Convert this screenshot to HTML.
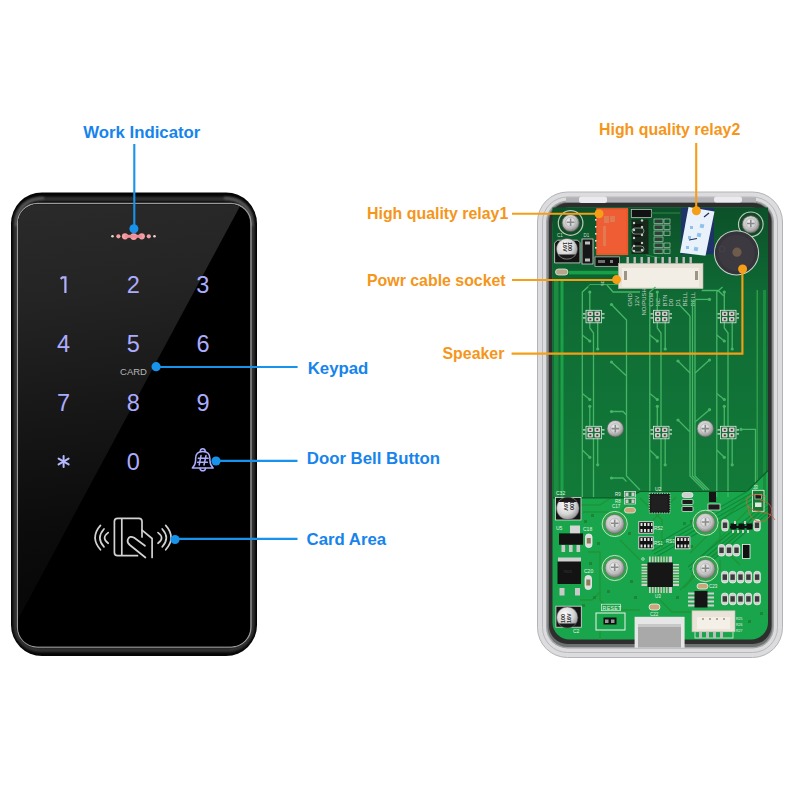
<!DOCTYPE html>
<html><head><meta charset="utf-8">
<style>
html,body{margin:0;padding:0;background:#fff;width:800px;height:800px;overflow:hidden}
svg{display:block}
text{font-family:"Liberation Sans",sans-serif}
</style></head><body>
<svg width="800" height="800" viewBox="0 0 800 800">
<defs>
  <linearGradient id="refl" gradientUnits="userSpaceOnUse" x1="0" y1="204" x2="60" y2="646">
    <stop offset="0" stop-color="#2a2a2a"/>
    <stop offset="0.22" stop-color="#242424"/>
    <stop offset="0.48" stop-color="#171717"/>
    <stop offset="0.72" stop-color="#0c0c0c"/>
    <stop offset="1" stop-color="#050505"/>
  </linearGradient>
  <linearGradient id="bez" x1="0" y1="0" x2="1" y2="0">
    <stop offset="0" stop-color="#0a0a0a"/>
    <stop offset="0.5" stop-color="#141414"/>
    <stop offset="1" stop-color="#0a0a0a"/>
  </linearGradient>
  <linearGradient id="dg" gradientUnits="userSpaceOnUse" x1="0" y1="207" x2="0" y2="497">
    <stop offset="0" stop-color="#0c5029"/>
    <stop offset="0.3" stop-color="#0f6a34"/>
    <stop offset="1" stop-color="#127b39"/>
  </linearGradient>
  <radialGradient id="screw" cx="0.45" cy="0.4" r="0.6">
    <stop offset="0" stop-color="#f4f4f4"/>
    <stop offset="0.6" stop-color="#c9c9c9"/>
    <stop offset="1" stop-color="#7d7d7d"/>
  </radialGradient>
  <radialGradient id="cap" cx="0.4" cy="0.35" r="0.7">
    <stop offset="0" stop-color="#ffffff"/>
    <stop offset="0.6" stop-color="#d5d5d5"/>
    <stop offset="1" stop-color="#8a8a8a"/>
  </radialGradient>
  <filter id="blur1" x="-10%" y="-10%" width="120%" height="120%"><feGaussianBlur stdDeviation="1.3"/></filter>
  <clipPath id="faceclip"><rect x="18" y="204.5" width="232" height="442" rx="19"/></clipPath>
</defs>
<rect width="800" height="800" fill="#fff"/>

<!-- ===== LEFT DEVICE ===== -->
<g id="device">
  <rect x="11" y="192.5" width="246" height="463.5" rx="31" fill="#050505"/>
  <rect x="15.5" y="199" width="237" height="451" rx="24.5" fill="none" stroke="#303030" stroke-width="4.5" filter="url(#blur1)"/>
  <path d="M16,226 Q17,199 44,198" fill="none" stroke="#5a5a5a" stroke-width="2.5" filter="url(#blur1)"/>
  <path d="M224,198 Q251,199 252,226" fill="none" stroke="#5a5a5a" stroke-width="2.5" filter="url(#blur1)"/>
  <rect x="17.5" y="203.5" width="233.5" height="443.5" rx="20" fill="none" stroke="#9a9a9a" stroke-width="1.3"/>
  <rect x="18" y="204.5" width="232" height="442" rx="19" fill="#000"/>
  <g clip-path="url(#faceclip)">
    <polygon points="0,190 248.7,190 -14.7,680 0,680" fill="url(#refl)"/>
  </g>
  <!-- indicator dots -->
  <g fill="#f5a0a6">
    <circle cx="112.5" cy="236.3" r="1.3" fill="#ead6d6"/>
    <circle cx="118.4" cy="236.3" r="2.1"/>
    <circle cx="125" cy="236.3" r="3.1"/>
    <circle cx="133.7" cy="236.6" r="3.4"/>
    <circle cx="141.8" cy="236.3" r="3.1"/>
    <circle cx="148.8" cy="236.3" r="2.1"/>
    <circle cx="154.5" cy="236.3" r="1.3" fill="#ead6d6"/>
    <rect x="125" y="234.8" width="16.8" height="3" fill="#f08c96"/>
  </g>
  <!-- digits -->
  <g fill="#acacff" font-size="23.5" text-anchor="middle">
    <text x="133.3" y="293">2</text>
    <text x="202.8" y="293">3</text>
    <text x="63.5" y="352.3">4</text>
    <text x="133.3" y="352.3">5</text>
    <text x="203" y="352.3">6</text>
    <text x="63.5" y="410.6">7</text>
    <text x="133.3" y="410.6">8</text>
    <text x="203" y="410.6">9</text>
    <text x="133.3" y="469.6">0</text>
  </g>
  <path d="M60.6,278.8 L62.5,277.4 H65.4 V292.9" fill="none" stroke="#b0b0ff" stroke-width="2.2" stroke-linejoin="miter"/>
  <text x="133.5" y="375" fill="#b5b5b5" font-size="9.5" text-anchor="middle">CARD</text>
  <!-- asterisk -->
  <g stroke="#b8baff" stroke-width="2" stroke-linecap="round">
    <line x1="63.6" y1="456" x2="63.6" y2="467"/>
    <line x1="58.6" y1="458.6" x2="68.6" y2="464.4"/>
    <line x1="58.6" y1="464.4" x2="68.6" y2="458.6"/>
  </g>
  <!-- bell -->
  <g stroke="#adadff" stroke-width="1.5" fill="none" stroke-linejoin="round" stroke-linecap="round">
    <path d="M192.3,468 Q195.5,465 195.6,460.5 V458.5 Q195.6,451.5 202.75,451.5 Q209.9,451.5 209.9,458.5 V460.5 Q210,465 213.2,468 Z"/>
    <path d="M200.2,451.3 Q200.5,448.8 202.75,448.8 Q205,448.8 205.3,451.3"/>
    <path d="M200,468.3 Q200.3,470.8 202.75,470.8 Q205.2,470.8 205.5,468.3"/>
    <path d="M201,455.6 L199.2,465 M206,455.6 L204,465 M198.3,458.2 H208.2 M197.6,462.3 H207.4" stroke-width="1.5"/>
  </g>
  <!-- card icon -->
  <g stroke="#d2d2d2" stroke-width="1.7" fill="none" stroke-linecap="round" stroke-linejoin="round">
    <path d="M100.5,525.4 Q89.7,537.6 100.5,549.8"/>
    <path d="M104,529 Q95.8,537.9 104,546.8"/>
    <path d="M108.2,532.6 Q101,537.9 108.2,543.3"/>
    <path d="M165.7,525.4 Q176.5,537.6 165.7,549.8"/>
    <path d="M162.2,529 Q170.4,537.9 162.2,546.8"/>
    <path d="M158,532.6 Q165.2,537.9 158,543.3"/>
    <path d="M137.5,555.7 H117.6 Q114.4,555.7 114.4,552.5 V521.5 Q114.4,518.3 117.6,518.3 H138.8 Q142,518.3 142,521.5 V537"/>
    <line x1="121.8" y1="519" x2="121.8" y2="555"/>
    <path d="M142,530.2 L152.1,538.5 V557.5"/>
    <path d="M145,545.8 L134.2,537.8 Q129.5,535.2 127.8,539.5 Q126.8,542.5 129.8,545 L145.4,557.5"/>
  </g>
</g>

<!-- ===== BLUE CALLOUTS ===== -->
<g fill="#1893ec" stroke="#1893ec">
  <line x1="134.3" y1="144" x2="134.3" y2="229" stroke-width="2.1"/>
  <circle cx="133.9" cy="228.8" r="4.5" stroke="none"/>
  <line x1="156" y1="367" x2="297.6" y2="367" stroke-width="2.2"/>
  <circle cx="156.1" cy="366.7" r="4.6" stroke="none"/>
  <line x1="216" y1="460.8" x2="297.5" y2="460.8" stroke-width="2.2"/>
  <circle cx="216" cy="461" r="4.6" stroke="none"/>
  <line x1="175" y1="538.8" x2="297.5" y2="538.8" stroke-width="2.2"/>
  <circle cx="175" cy="539.5" r="4.6" stroke="none"/>
</g>
<g fill="#1684ec" font-weight="bold" font-size="16.8">
  <text x="83.2" y="138">Work Indicator</text>
  <text x="307.7" y="374">Keypad</text>
  <text x="306.8" y="463.6">Door Bell Button</text>
  <text x="306.6" y="545.3">Card Area</text>
</g>

<!-- ===== RIGHT PCB ===== -->
<g id="pcb">
  <!-- case -->
  <rect x="537.5" y="192" width="245" height="465.5" rx="30" fill="#dcdcdf" stroke="#b4b4b8" stroke-width="1"/>
  <rect x="542.5" y="197" width="235" height="455.5" rx="25" fill="none" stroke="#b9b9bd" stroke-width="1"/>
  <rect x="546" y="200.5" width="228" height="448" rx="21.5" fill="#a3a6a6"/>
  <rect x="547.5" y="202" width="225" height="445" rx="20" fill="#6e7272"/>
  <rect x="549" y="203" width="222.5" height="441" rx="18.5" fill="#2e2e2e"/>
  <!-- top frame clips -->
  <rect x="566" y="197.3" width="190" height="5" fill="#b2b2b6"/>
  <rect x="579" y="196.5" width="28" height="6.5" rx="2.5" fill="#ebebef"/>
  <rect x="714" y="196.5" width="28" height="6" rx="2.5" fill="#ebebef"/>
  <!-- board -->
  <rect x="552.5" y="207.5" width="215.5" height="432" rx="17" fill="#19a54b"/>
  <polygon points="552.5,207.5 768,207.5 768,470 747,491 640,491 628,497.5 552.5,497.5" fill="url(#dg)"/>
  <rect x="569" y="270.8" width="50" height="3.6" fill="#17a045"/>
  <path d="M582.3,292 L590,284.5 H619" fill="none" stroke="#3cab57" stroke-width="1"/>
  <rect x="554" y="281" width="4.5" height="216.5" fill="#1c8c40"/>
  <rect x="560.5" y="281" width="3" height="216.5" fill="#1ca048"/>
  <rect x="756.5" y="290" width="1.5" height="195" fill="#2f9a4a"/>
  <rect x="763" y="290" width="3" height="205" fill="#1c8c40"/>
  <!-- top screws -->
  <g>
    <circle cx="570.6" cy="223" r="12.3" fill="#124a26" stroke="#b8ccb8" stroke-width="1.2"/>
    <circle cx="570.6" cy="223" r="8.6" fill="url(#screw)" stroke="#5a5a5a" stroke-width="0.7"/>
    <path d="M566.8,222.2 H574.4 M570.6,218.4 V226.0" stroke="#8a8a8a" stroke-width="1.6" fill="none"/><circle cx="570.6" cy="222.2" r="5" fill="none" stroke="#a8a8a8" stroke-width="0.6"/>
    <circle cx="750.8" cy="224.3" r="12.3" fill="#124a26" stroke="#b8ccb8" stroke-width="1.2"/>
    <circle cx="750.8" cy="224.3" r="8.6" fill="url(#screw)" stroke="#5a5a5a" stroke-width="0.7"/>
    <path d="M747.0,223.5 H754.6 M750.8,219.7 V227.3" stroke="#8a8a8a" stroke-width="1.6" fill="none"/><circle cx="750.8" cy="223.5" r="5" fill="none" stroke="#a8a8a8" stroke-width="0.6"/>
  </g>
  <!-- C1 -->
  <path d="M557.5,240.2 H577.5 L580,242.7 V262.9 H554.6 V243.1 Z" fill="#121212" stroke="#dcdcdc" stroke-width="0.8"/>
  <circle cx="567" cy="249" r="10.6" fill="url(#cap)" stroke="#444" stroke-width="0.5"/>
  <path d="M558.5,254.5 A10.6,10.6 0 0 0 575.5,254.5 Z" fill="#1a1a1a"/>
  <g font-size="5.5" fill="#2a2a2a" font-weight="bold" transform="rotate(90 567 248)"><text x="561" y="247">100</text><text x="561" y="252.5">16V</text></g>
  <text x="557" y="237" font-size="4.5" fill="#cfdccf">C1</text>
  <!-- D1 -->
  <rect x="582" y="239" width="11" height="25" fill="#161616" stroke="#d8d8d8" stroke-width="0.8"/>
  <rect x="585" y="241.5" width="5" height="3" fill="#bdbdbd"/>
  <rect x="585" y="258.5" width="5" height="3" fill="#bdbdbd"/>
  <text x="583.5" y="236.5" font-size="4.5" fill="#cfdccf">D1</text>
  <!-- small pad left -->
  <rect x="555.5" y="269" width="12.5" height="6" rx="3" fill="#b8a58a" stroke="#dfe8df" stroke-width="0.8"/>
  <!-- relay1 -->
  <rect x="596.2" y="208.1" width="32" height="47" fill="#ec582c"/>
  <rect x="598" y="210" width="28" height="43" fill="#f0613a" opacity="0.6"/>
  <g fill="#e8e0dc"><rect x="595" y="219" width="1.6" height="1.6"/><rect x="595" y="226" width="1.6" height="1.6"/><rect x="595" y="233" width="1.6" height="1.6"/><rect x="595" y="240" width="1.6" height="1.6"/><rect x="595" y="247" width="1.6" height="1.6"/></g>
  <g fill="#d8906a" opacity="0.55"><rect x="604" y="216" width="5" height="7"/><rect x="610" y="216" width="5" height="6"/><rect x="603" y="226" width="3" height="20"/></g>
  <!-- jumper under relay -->
  <rect x="595" y="256.9" width="24.4" height="9.4" fill="#101010" stroke="#c8c8c8" stroke-width="0.7"/>
  <rect x="598" y="260" width="7" height="3" fill="#707070"/><rect x="610" y="260" width="3" height="3" fill="#808080"/>
  <!-- transistor column -->
  <rect x="631.3" y="209.4" width="20" height="8.1" fill="#111" stroke="#d0d0d0" stroke-width="0.7"/>
  <rect x="631.5" y="219.5" width="17" height="34.5" fill="#15281a"/>
  <rect x="634.5" y="224" width="8" height="4" fill="#111"/><rect x="634.5" y="233" width="8" height="4" fill="#111"/><rect x="634.5" y="242" width="8" height="4" fill="#111"/>
  <g fill="#c9c9c9">
    <circle cx="634" cy="223" r="1.2"/><circle cx="642" cy="220.5" r="1.2"/>
    <circle cx="634" cy="230" r="1.2"/><circle cx="642" cy="227" r="1.2"/>
    <circle cx="634" cy="238" r="1.2"/><circle cx="642" cy="235" r="1.2"/>
    <circle cx="634" cy="246" r="1.2"/><circle cx="642" cy="243" r="1.2"/>
    <circle cx="634" cy="251" r="1.2"/><circle cx="642" cy="250" r="1.2"/>
  </g>
  <g fill="none" stroke="#c8d4c8" stroke-width="0.6">
    <rect x="632" y="228" width="12" height="6" rx="3"/>
    <rect x="632" y="246" width="12" height="6" rx="3"/>
  </g>
  <!-- resistor grid silkscreen -->
  <g fill="none" stroke="#c8d4c8" stroke-width="0.6">
    <rect x="654" y="219" width="9" height="4.5"/><rect x="654" y="225" width="9" height="4.5"/>
    <rect x="654" y="231" width="9" height="4.5"/><rect x="654" y="237" width="9" height="4.5"/>
    <rect x="654" y="243" width="9" height="4.5"/><rect x="654" y="249" width="9" height="4.5"/>
    <rect x="664" y="219" width="6" height="4.5"/><rect x="664" y="225" width="6" height="4.5"/>
    <rect x="664" y="231" width="6" height="4.5"/><rect x="664" y="243" width="6" height="4.5"/>
    <rect x="664" y="249" width="6" height="4.5"/>
  </g>
  <g fill="#3a3a3a"><rect x="656" y="220" width="5" height="2.5"/><rect x="656" y="226" width="5" height="2.5"/><rect x="656" y="232" width="5" height="2.5"/><rect x="656" y="238" width="5" height="2.5"/><rect x="656" y="244" width="5" height="2.5"/><rect x="656" y="250" width="5" height="2.5"/></g>
  <path d="M651,213 H680 M646,255 L660,258" stroke="#2f8a45" stroke-width="1" fill="none"/>
  <!-- relay2 -->
  <rect x="681" y="207.8" width="33" height="46.5" fill="#1e3468"/>
  <polygon points="688.5,207 714.5,211.5 705.5,255.8 680,252.8" fill="#e9f1fa"/>
  <g fill="#8fc2ea">
    <rect x="700" y="224" width="4" height="4" transform="rotate(12 702 226)"/>
    <rect x="697" y="233" width="4" height="4" transform="rotate(12 699 235)"/>
    <rect x="694" y="247" width="4" height="4" transform="rotate(12 696 249)"/>
    <rect x="690" y="226" width="3" height="3"/><rect x="688" y="236" width="3" height="3"/><rect x="686" y="246" width="3" height="3"/>
  </g>
  <path d="M704,217 L709,213" stroke="#1a2e55" stroke-width="1.2"/>
  <path d="M689,240 L697,238.5" stroke="#1a2e55" stroke-width="1.2"/>
  <!-- speaker -->
  <circle cx="736.5" cy="252.8" r="22.6" fill="#cdd6cf"/>
  <circle cx="736.5" cy="252.8" r="21.6" fill="#36343b"/>
  <circle cx="736.5" cy="252.8" r="18" fill="#3c3a40"/>
  <circle cx="737" cy="252.2" r="4.6" fill="#6e5b4c"/>
  <circle cx="722" cy="249" r="3" fill="none" stroke="#4a484e" stroke-width="0.6"/>
  <!-- power connector -->
  <g fill="#bdbdbd">
    <rect x="626.5" y="257" width="2.4" height="7"/><rect x="633.5" y="257" width="2.4" height="7"/>
    <rect x="640.5" y="257" width="2.4" height="7"/><rect x="647.5" y="257" width="2.4" height="7"/>
    <rect x="654.5" y="257" width="2.4" height="7"/><rect x="661.5" y="257" width="2.4" height="7"/>
    <rect x="668.5" y="257" width="2.4" height="7"/><rect x="675.5" y="257" width="2.4" height="7"/>
    <rect x="682.5" y="257" width="2.4" height="7"/><rect x="689.5" y="257" width="2.4" height="7"/>
  </g>
  <rect x="618.4" y="263.4" width="84.6" height="25.3" fill="#e8e2d6" stroke="#b9b1a3" stroke-width="0.6"/>
  <rect x="622" y="268" width="77" height="19" fill="#f2eee6"/>
  <rect x="624" y="271" width="3" height="9" fill="#9c9484"/>
  <rect x="695" y="271" width="3" height="9" fill="#9c9484"/>
  <text x="600" y="286" font-size="4" fill="#cfdccf" transform="rotate(-90 602 284)">SD</text>
  <!-- connector labels -->
  <g font-size="6" fill="#c4d0c4">
    <text transform="translate(631.8,306.5) rotate(-90)">GND</text>
    <text transform="translate(639.1,306.5) rotate(-90)">12V</text>
    <text transform="translate(645.8,315.5) rotate(-90)">NO/PUSH</text>
    <text transform="translate(652.6,306.5) rotate(-90)">COM</text>
    <text transform="translate(659.9,306.5) rotate(-90)">NC</text>
    <text transform="translate(666.6,306.5) rotate(-90)">BTN</text>
    <text transform="translate(673.4,306.5) rotate(-90)">D0</text>
    <text transform="translate(680.1,306.5) rotate(-90)">D1</text>
    <text transform="translate(687.4,306.5) rotate(-90)">BELL</text>
    <text transform="translate(694.8,306.5) rotate(-90)">BELL</text>
  </g>

  <!-- traces mid -->
  <g>
      <g fill="none" stroke="#46b666" stroke-width="1.3">
        <path d="M588,287 L582.3,292 V497"/>
        <path d="M589.8,292 V311"/>
        <path d="M589.8,322 V328 L593.5,333 V426"/>
        <path d="M597.7,322 V349"/>
        <path d="M582.3,335 L589.8,341"/>
        <path d="M582.3,393.5 L589.8,399.5"/>
        <path d="M589.8,406.3 V426"/>
        <path d="M582.3,450 L589.8,457.3"/>
        <path d="M597.7,438 V464.8"/>
        <path d="M593.5,438 V497"/>
      </g>
      <g fill="#46b666">
        <circle cx="589.8" cy="292" r="1.6"/><circle cx="597.7" cy="349" r="1.6"/><circle cx="589.8" cy="341" r="1.6"/>
        <circle cx="589.8" cy="399.5" r="1.6"/><circle cx="589.8" cy="406.3" r="1.6"/><circle cx="589.8" cy="457.3" r="1.6"/><circle cx="597.7" cy="464.8" r="1.6"/>
      </g>
      <g>
        <rect x="586" y="310.3" width="15.5" height="12.5" fill="none" stroke="#dde6dd" stroke-width="0.8"/>
        <g fill="#d6cccc"><rect x="587.5" y="311.5" width="5.5" height="4.6" rx="1"/><rect x="594.5" y="311.5" width="5.5" height="4.6" rx="1"/>
        <rect x="587.5" y="317.0" width="5.5" height="4.6" rx="1"/><rect x="594.5" y="317.0" width="5.5" height="4.6" rx="1"/></g>
        <g fill="#3a3a3a"><rect x="589.3" y="312.90000000000003" width="2" height="1.8"/><rect x="596.3" y="312.90000000000003" width="2" height="1.8"/><rect x="589.3" y="318.40000000000003" width="2" height="1.8"/><rect x="596.3" y="318.40000000000003" width="2" height="1.8"/></g>
        <g fill="#dde6dd"><rect x="583" y="313.3" width="2.5" height="1.2"/><rect x="583" y="317.3" width="2.5" height="1.2"/><rect x="602" y="313.3" width="2.5" height="1.2"/><rect x="602" y="317.3" width="2.5" height="1.2"/></g>
        <rect x="586" y="426.3" width="15.5" height="12.5" fill="none" stroke="#dde6dd" stroke-width="0.8"/>
        <g fill="#d6cccc"><rect x="587.5" y="427.5" width="5.5" height="4.6" rx="1"/><rect x="594.5" y="427.5" width="5.5" height="4.6" rx="1"/>
        <rect x="587.5" y="433.0" width="5.5" height="4.6" rx="1"/><rect x="594.5" y="433.0" width="5.5" height="4.6" rx="1"/></g>
        <g fill="#3a3a3a"><rect x="589.3" y="428.90000000000003" width="2" height="1.8"/><rect x="596.3" y="428.90000000000003" width="2" height="1.8"/><rect x="589.3" y="434.40000000000003" width="2" height="1.8"/><rect x="596.3" y="434.40000000000003" width="2" height="1.8"/></g>
        <g fill="#dde6dd"><rect x="583" y="429.3" width="2.5" height="1.2"/><rect x="583" y="433.3" width="2.5" height="1.2"/><rect x="602" y="429.3" width="2.5" height="1.2"/><rect x="602" y="433.3" width="2.5" height="1.2"/></g>
      </g>
  </g>
  <g transform="translate(67.5,0)">
      <g fill="none" stroke="#46b666" stroke-width="1.3">
        <path d="M588,287 L582.3,292 V497"/>
        <path d="M589.8,292 V311"/>
        <path d="M589.8,322 V328 L593.5,333 V426"/>
        <path d="M597.7,322 V349"/>
        <path d="M582.3,335 L589.8,341"/>
        <path d="M582.3,393.5 L589.8,399.5"/>
        <path d="M589.8,406.3 V426"/>
        <path d="M582.3,450 L589.8,457.3"/>
        <path d="M597.7,438 V464.8"/>
        <path d="M593.5,438 V497"/>
      </g>
      <g fill="#46b666">
        <circle cx="589.8" cy="292" r="1.6"/><circle cx="597.7" cy="349" r="1.6"/><circle cx="589.8" cy="341" r="1.6"/>
        <circle cx="589.8" cy="399.5" r="1.6"/><circle cx="589.8" cy="406.3" r="1.6"/><circle cx="589.8" cy="457.3" r="1.6"/><circle cx="597.7" cy="464.8" r="1.6"/>
      </g>
      <g>
        <rect x="586" y="310.3" width="15.5" height="12.5" fill="none" stroke="#dde6dd" stroke-width="0.8"/>
        <g fill="#d6cccc"><rect x="587.5" y="311.5" width="5.5" height="4.6" rx="1"/><rect x="594.5" y="311.5" width="5.5" height="4.6" rx="1"/>
        <rect x="587.5" y="317.0" width="5.5" height="4.6" rx="1"/><rect x="594.5" y="317.0" width="5.5" height="4.6" rx="1"/></g>
        <g fill="#3a3a3a"><rect x="589.3" y="312.90000000000003" width="2" height="1.8"/><rect x="596.3" y="312.90000000000003" width="2" height="1.8"/><rect x="589.3" y="318.40000000000003" width="2" height="1.8"/><rect x="596.3" y="318.40000000000003" width="2" height="1.8"/></g>
        <g fill="#dde6dd"><rect x="583" y="313.3" width="2.5" height="1.2"/><rect x="583" y="317.3" width="2.5" height="1.2"/><rect x="602" y="313.3" width="2.5" height="1.2"/><rect x="602" y="317.3" width="2.5" height="1.2"/></g>
        <rect x="586" y="426.3" width="15.5" height="12.5" fill="none" stroke="#dde6dd" stroke-width="0.8"/>
        <g fill="#d6cccc"><rect x="587.5" y="427.5" width="5.5" height="4.6" rx="1"/><rect x="594.5" y="427.5" width="5.5" height="4.6" rx="1"/>
        <rect x="587.5" y="433.0" width="5.5" height="4.6" rx="1"/><rect x="594.5" y="433.0" width="5.5" height="4.6" rx="1"/></g>
        <g fill="#3a3a3a"><rect x="589.3" y="428.90000000000003" width="2" height="1.8"/><rect x="596.3" y="428.90000000000003" width="2" height="1.8"/><rect x="589.3" y="434.40000000000003" width="2" height="1.8"/><rect x="596.3" y="434.40000000000003" width="2" height="1.8"/></g>
        <g fill="#dde6dd"><rect x="583" y="429.3" width="2.5" height="1.2"/><rect x="583" y="433.3" width="2.5" height="1.2"/><rect x="602" y="429.3" width="2.5" height="1.2"/><rect x="602" y="433.3" width="2.5" height="1.2"/></g>
      </g>
  </g>
  <g transform="translate(134.5,0)">
      <g fill="none" stroke="#46b666" stroke-width="1.3">
        <path d="M588,287 L582.3,292 V497"/>
        <path d="M589.8,292 V311"/>
        <path d="M589.8,322 V328 L593.5,333 V426"/>
        <path d="M597.7,322 V349"/>
        <path d="M582.3,335 L589.8,341"/>
        <path d="M582.3,393.5 L589.8,399.5"/>
        <path d="M589.8,406.3 V426"/>
        <path d="M582.3,450 L589.8,457.3"/>
        <path d="M597.7,438 V464.8"/>
        <path d="M593.5,438 V497"/>
      </g>
      <g fill="#46b666">
        <circle cx="589.8" cy="292" r="1.6"/><circle cx="597.7" cy="349" r="1.6"/><circle cx="589.8" cy="341" r="1.6"/>
        <circle cx="589.8" cy="399.5" r="1.6"/><circle cx="589.8" cy="406.3" r="1.6"/><circle cx="589.8" cy="457.3" r="1.6"/><circle cx="597.7" cy="464.8" r="1.6"/>
      </g>
      <g>
        <rect x="586" y="310.3" width="15.5" height="12.5" fill="none" stroke="#dde6dd" stroke-width="0.8"/>
        <g fill="#d6cccc"><rect x="587.5" y="311.5" width="5.5" height="4.6" rx="1"/><rect x="594.5" y="311.5" width="5.5" height="4.6" rx="1"/>
        <rect x="587.5" y="317.0" width="5.5" height="4.6" rx="1"/><rect x="594.5" y="317.0" width="5.5" height="4.6" rx="1"/></g>
        <g fill="#3a3a3a"><rect x="589.3" y="312.90000000000003" width="2" height="1.8"/><rect x="596.3" y="312.90000000000003" width="2" height="1.8"/><rect x="589.3" y="318.40000000000003" width="2" height="1.8"/><rect x="596.3" y="318.40000000000003" width="2" height="1.8"/></g>
        <g fill="#dde6dd"><rect x="583" y="313.3" width="2.5" height="1.2"/><rect x="583" y="317.3" width="2.5" height="1.2"/><rect x="602" y="313.3" width="2.5" height="1.2"/><rect x="602" y="317.3" width="2.5" height="1.2"/></g>
        <rect x="586" y="426.3" width="15.5" height="12.5" fill="none" stroke="#dde6dd" stroke-width="0.8"/>
        <g fill="#d6cccc"><rect x="587.5" y="427.5" width="5.5" height="4.6" rx="1"/><rect x="594.5" y="427.5" width="5.5" height="4.6" rx="1"/>
        <rect x="587.5" y="433.0" width="5.5" height="4.6" rx="1"/><rect x="594.5" y="433.0" width="5.5" height="4.6" rx="1"/></g>
        <g fill="#3a3a3a"><rect x="589.3" y="428.90000000000003" width="2" height="1.8"/><rect x="596.3" y="428.90000000000003" width="2" height="1.8"/><rect x="589.3" y="434.40000000000003" width="2" height="1.8"/><rect x="596.3" y="434.40000000000003" width="2" height="1.8"/></g>
        <g fill="#dde6dd"><rect x="583" y="429.3" width="2.5" height="1.2"/><rect x="583" y="433.3" width="2.5" height="1.2"/><rect x="602" y="429.3" width="2.5" height="1.2"/><rect x="602" y="433.3" width="2.5" height="1.2"/></g>
      </g>
  </g>
  <g fill="none" stroke="#46b666" stroke-width="1.3">
    <path d="M607,285 L613,292 H640"/>
    <path d="M611.5,304.5 L626.5,320 V476 L640,490"/>
    <path d="M611.5,362 L626,375.5"/>
    <path d="M611.5,411.5 H623 L626.5,415"/>
    <path d="M611.5,478 H623 L626.5,481.5"/>
    <path d="M690,316 V476 L704,490"/><path d="M692.5,300 V476 L706.5,490"/><path d="M695,300 V476 L709,490"/>
    <path d="M679.4,304.7 L690,316"/><path d="M709.5,299.4 H695"/>
    <path d="M678,361 L690,373"/><path d="M709.5,360 L695,373"/>
    <path d="M678,420 L690,432"/><path d="M709.5,409.7 L695,422"/>
    <path d="M701.7,290.5 H718 L724,296"/>
    <path d="M741,429.4 H755.5 V497"/>
  </g>
  <g fill="#46b666">
    <circle cx="611.5" cy="304.5" r="1.6"/><circle cx="611.5" cy="362" r="1.6"/><circle cx="611.5" cy="411.5" r="1.6"/><circle cx="611.5" cy="478" r="1.6"/>
    <circle cx="678" cy="361" r="1.6"/><circle cx="709.5" cy="360" r="1.6"/><circle cx="678" cy="420" r="1.6"/><circle cx="709.5" cy="409.7" r="1.6"/>
    <circle cx="709.5" cy="299.4" r="1.6"/><circle cx="741" cy="429.4" r="1.6"/>
  </g>
  <!-- mid screws -->
  <g>
    <circle cx="615.3" cy="428.7" r="8.3" fill="url(#screw)" stroke="#5d5d5d" stroke-width="0.6"/>
    <path d="M611.5,428.6 H619.1 M615.3,424.8 V432.4" stroke="#8a8a8a" stroke-width="1.6" fill="none"/><circle cx="615.3" cy="428.6" r="5" fill="none" stroke="#a8a8a8" stroke-width="0.6"/>
    <circle cx="705.3" cy="428.7" r="8.3" fill="url(#screw)" stroke="#5d5d5d" stroke-width="0.6"/>
    <path d="M701.5,428.6 H709.1 M705.3,424.8 V432.4" stroke="#8a8a8a" stroke-width="1.6" fill="none"/><circle cx="705.3" cy="428.6" r="5" fill="none" stroke="#a8a8a8" stroke-width="0.6"/>
  </g>

  <!-- bottom board traces -->
  <g fill="none" stroke="#1f9437" stroke-width="1.3">
    <path d="M563,505 H600 L612,497"/>
    <path d="M583,512 H620 L632,500"/>
    <path d="M588,552 H600 V600 L610,610 H640"/>
    <path d="M640,498 L662,520 V548"/>
    <path d="M676,497 L652,521"/>
    <path d="M760,498 L700,558 L690,580"/>
    <path d="M765,505 L702,568 L684,588"/>
    <path d="M745,498 L690,553"/>
    <path d="M620,540 L640,560"/>
    <path d="M600,640 V630 M580,600 H592 L600,592"/>
    <path d="M680,590 L700,570 H720 V560"/>
    <path d="M720,520 V545 L740,565"/>
    <path d="M660,600 L672,612 H700"/>
  </g>
  <g fill="#1c8634">
    <rect x="584" y="520" width="3" height="3"/><rect x="591" y="514" width="3" height="3"/><rect x="597" y="542" width="3" height="3"/>
    <rect x="589" y="562" width="3" height="3"/><rect x="593" y="596" width="3" height="3"/><rect x="628" y="532" width="3" height="3"/>
    <rect x="630" y="580" width="3" height="3"/><rect x="634" y="596" width="3" height="3"/><rect x="582" y="604" width="3" height="3"/>
    <rect x="676" y="596" width="3" height="3"/><rect x="683" y="522" width="3" height="3"/><rect x="690" y="520" width="3" height="3"/>
    <rect x="756" y="580" width="3" height="3"/><rect x="760" y="612" width="3" height="3"/><rect x="748" y="620" width="3" height="3"/>
    <rect x="607" y="590" width="3" height="3"/><rect x="622" y="560" width="3" height="3"/><rect x="690" y="545" width="3" height="3"/>
  </g>
  <!-- shadow line under dark board -->
  <path d="M553,497.8 H628 L640,491.5 H747 L768,470.5" fill="none" stroke="#0b5a26" stroke-width="1.2"/>
  <g fill="none" stroke="#0f8a3a" stroke-width="1.1">
    <path d="M748,491 L650,548"/><path d="M751,493.5 L652,551"/><path d="M754,496 L654,554"/><path d="M757,498.5 L656,557"/>
    <path d="M766,503 L688,567"/><path d="M768,506 L690,570"/><path d="M768,509.5 L692,573"/><path d="M768,513 L694,576"/>
  </g>
  <!-- screws bottom -->
  <g>
    <circle cx="614.7" cy="524" r="12.6" fill="#2aa644" stroke="#d6e8d6" stroke-width="0.9"/>
    <circle cx="614.7" cy="524" r="9.6" fill="url(#screw)" stroke="#6a6a6a" stroke-width="0.6"/>
    <path d="M610.9,523.2 H618.5 M614.7,519.4 V527.0" stroke="#8a8a8a" stroke-width="1.6" fill="none"/><circle cx="614.7" cy="523.2" r="5" fill="none" stroke="#a8a8a8" stroke-width="0.6"/>
    <circle cx="614.7" cy="568" r="12.6" fill="#2aa644" stroke="#d6e8d6" stroke-width="0.9"/>
    <circle cx="614.7" cy="568" r="9.6" fill="url(#screw)" stroke="#6a6a6a" stroke-width="0.6"/>
    <path d="M610.9,567.2 H618.5 M614.7,563.4 V571.0" stroke="#8a8a8a" stroke-width="1.6" fill="none"/><circle cx="614.7" cy="567.2" r="5" fill="none" stroke="#a8a8a8" stroke-width="0.6"/>
    <circle cx="705.5" cy="522.8" r="12.6" fill="#2aa644" stroke="#d6e8d6" stroke-width="0.9"/>
    <circle cx="705.5" cy="522.8" r="9.6" fill="url(#screw)" stroke="#6a6a6a" stroke-width="0.6"/>
    <path d="M701.7,522.0 H709.3 M705.5,518.2 V525.8" stroke="#8a8a8a" stroke-width="1.6" fill="none"/><circle cx="705.5" cy="522.0" r="5" fill="none" stroke="#a8a8a8" stroke-width="0.6"/>
    <circle cx="705.5" cy="569" r="12.6" fill="#2aa644" stroke="#d6e8d6" stroke-width="0.9"/>
    <circle cx="705.5" cy="569" r="9.6" fill="url(#screw)" stroke="#6a6a6a" stroke-width="0.6"/>
    <path d="M701.7,568.2 H709.3 M705.5,564.4 V572.0" stroke="#8a8a8a" stroke-width="1.6" fill="none"/><circle cx="705.5" cy="568.2" r="5" fill="none" stroke="#a8a8a8" stroke-width="0.6"/>
  </g>
  <!-- C32 -->
  <rect x="555.6" y="497.5" width="25.4" height="22.5" fill="#151515" stroke="#e0e0e0" stroke-width="0.8"/>
  <circle cx="567.8" cy="508.3" r="11.3" fill="url(#cap)" stroke="#555" stroke-width="0.5"/>
  <path d="M558.5,502 A11.3,11.3 0 0 1 577,502 Z" fill="#1a1a1a"/>
  <g font-size="5.5" fill="#2a2a2a" font-weight="bold" transform="rotate(90 568 508)"><text x="561" y="506">100</text><text x="561" y="512">16V</text></g>
  <text x="556" y="495" font-size="5" fill="#e8f2e8">C32</text>
  <!-- U5 -->
  <text x="556" y="530" font-size="5" fill="#e8f2e8">U5</text>
  <rect x="570" y="525.5" width="10" height="8.5" fill="#d5d5d5"/>
  <rect x="559" y="533.4" width="24" height="11.3" fill="#121212"/>
  <g fill="#c9c9c9"><rect x="561.5" y="545" width="3.6" height="7"/><rect x="569" y="545" width="3.6" height="7"/><rect x="576.5" y="545" width="3.6" height="7"/></g>
  <rect x="585.5" y="534" width="6.5" height="13.5" rx="3" fill="#ddd" stroke="#f0f0f0" stroke-width="0.8"/>
  <rect x="586.8" y="538" width="4" height="5.5" fill="#8c7a5a"/>
  <text x="583" y="531" font-size="5" fill="#e8f2e8">C18</text>
  <!-- Q1 -->
  <rect x="558" y="557.5" width="23" height="5" fill="#d0d0d0"/>
  <rect x="557.5" y="561.5" width="23.5" height="22.5" fill="#131313"/>
  <text x="563" y="573" font-size="4" fill="#3a3a3a">7805</text>
  <g fill="#c9c9c9"><rect x="559.5" y="588" width="5" height="7.5"/><rect x="575" y="588" width="5" height="7.5"/></g>
  <rect x="585" y="575.5" width="6.5" height="14" rx="3" fill="#ddd" stroke="#f0f0f0" stroke-width="0.8"/>
  <rect x="586.3" y="579.5" width="4" height="6" fill="#8c7a5a"/>
  <text x="584" y="573" font-size="5" fill="#e8f2e8">C20</text>
  <!-- C2 -->
  <rect x="555.9" y="606.2" width="25.4" height="21" fill="#151515" stroke="#e0e0e0" stroke-width="0.8"/>
  <circle cx="567.3" cy="617.6" r="10.6" fill="url(#cap)" stroke="#555" stroke-width="0.5"/>
  <path d="M558.8,623.5 A10.6,10.6 0 0 0 575.8,623.5 Z" fill="#1a1a1a"/>
  <g font-size="5.5" fill="#2a2a2a" font-weight="bold" transform="rotate(-90 567 617)"><text x="561" y="615">100</text><text x="561" y="621">16V</text></g>
  <text x="573" y="633" font-size="5" fill="#e8f2e8">C2</text>
  <!-- U2 + R8 R9 C17 -->
  <rect x="649.3" y="493.4" width="20.7" height="19.6" fill="#1a1a1a" stroke="#cfcfcf" stroke-width="1" stroke-dasharray="1.2,1.3"/>
  <rect x="651.5" y="495.5" width="16.3" height="15.4" fill="#202020"/>
  <text x="655" y="490.5" font-size="5" fill="#e8f2e8">U2</text>
  <g stroke="#eef4ee" stroke-width="0.7">
    <rect x="624.5" y="491.5" width="11" height="5.5" fill="#1f7a3a"/>
    <rect x="624.5" y="498.5" width="11" height="5.5" fill="#1f7a3a"/>
    <rect x="624.5" y="507.5" width="11" height="5.5" rx="2.7" fill="#c9a77a"/>
  </g>
  <g fill="#cfcfcf"><rect x="625.5" y="492.5" width="3" height="3.5"/><rect x="631.5" y="492.5" width="3" height="3.5"/><rect x="625.5" y="499.5" width="3" height="3.5"/><rect x="631.5" y="499.5" width="3" height="3.5"/></g>
  <g font-size="4.5" fill="#e8f2e8"><text x="615" y="496">R9</text><text x="615" y="503">R8</text><text x="612" y="508">C17</text></g>
  <!-- RS arrays -->
  <g>
    <rect x="638.8" y="521.7" width="14.4" height="11.5" fill="#121212" stroke="#e4e4e4" stroke-width="0.9"/>
    <rect x="638.8" y="536.8" width="14.4" height="12" fill="#121212" stroke="#e4e4e4" stroke-width="0.9"/>
    <rect x="675.5" y="536.8" width="14.4" height="12" fill="#121212" stroke="#e4e4e4" stroke-width="0.9"/>
    <g fill="#e0e0e0">
      <rect x="640.5" y="523" width="2" height="3"/><rect x="644" y="523" width="2" height="3"/><rect x="647.5" y="523" width="2" height="3"/><rect x="651" y="523" width="1.5" height="3"/>
      <rect x="640.5" y="529" width="2" height="3"/><rect x="644" y="529" width="2" height="3"/><rect x="647.5" y="529" width="2" height="3"/><rect x="651" y="529" width="1.5" height="3"/>
      <rect x="640.5" y="538" width="2" height="3"/><rect x="644" y="538" width="2" height="3"/><rect x="647.5" y="538" width="2" height="3"/><rect x="651" y="538" width="1.5" height="3"/>
      <rect x="640.5" y="544.5" width="2" height="3"/><rect x="644" y="544.5" width="2" height="3"/><rect x="647.5" y="544.5" width="2" height="3"/><rect x="651" y="544.5" width="1.5" height="3"/>
      <rect x="677.2" y="538" width="2" height="3"/><rect x="680.7" y="538" width="2" height="3"/><rect x="684.2" y="538" width="2" height="3"/><rect x="687.7" y="538" width="1.5" height="3"/>
      <rect x="677.2" y="544.5" width="2" height="3"/><rect x="680.7" y="544.5" width="2" height="3"/><rect x="684.2" y="544.5" width="2" height="3"/><rect x="687.7" y="544.5" width="1.5" height="3"/>
    </g>
    <g font-size="4.5" fill="#e8f2e8"><text x="654" y="530">RS2</text><text x="654" y="545">RS1</text><text x="666" y="543">RS3</text></g>
  </g>
  <!-- U3 QFP -->
  <g fill="#cfcfcf">
    <rect x="649" y="556.5" width="23" height="6"/>
    <rect x="649" y="587" width="23" height="6"/>
    <rect x="641.5" y="564" width="6" height="22"/>
    <rect x="673" y="564" width="6" height="22"/>
  </g>
  <g stroke="#2aa644" stroke-width="1.4">
    <path d="M651.4,556 V563 M654.2,556 V563 M657,556 V563 M659.8,556 V563 M662.6,556 V563 M665.4,556 V563 M668.2,556 V563"/>
    <path d="M651.4,587 V594 M654.2,587 V594 M657,587 V594 M659.8,587 V594 M662.6,587 V594 M665.4,587 V594 M668.2,587 V594"/>
    <path d="M641,566.3 H648 M641,569.1 H648 M641,571.9 H648 M641,574.7 H648 M641,577.5 H648 M641,580.3 H648 M641,583.1 H648"/>
    <path d="M672.5,566.3 H680 M672.5,569.1 H680 M672.5,571.9 H680 M672.5,574.7 H680 M672.5,577.5 H680 M672.5,580.3 H680 M672.5,583.1 H680"/>
  </g>
  <rect x="647.5" y="562.5" width="25.3" height="24.5" fill="#161616"/>
  <circle cx="643" cy="559" r="1.3" fill="none" stroke="#eee" stroke-width="0.7"/>
  <text x="655" y="598" font-size="4.5" fill="#e8f2e8">U3</text>
  <!-- C22 / RESET -->
  <rect x="649" y="604" width="11" height="6" rx="3" fill="#c9a77a" stroke="#f0f0f0" stroke-width="0.8"/>
  <text x="650" y="616" font-size="4.5" fill="#e8f2e8">C22</text>
  <rect x="601.5" y="604.2" width="19" height="6.5" fill="none" stroke="#e8f2e8" stroke-width="0.7"/>
  <text x="602.6" y="609.6" font-size="5.2" fill="#e8f2e8" letter-spacing="0.3">RESET</text>
  <rect x="596" y="613" width="29" height="17" fill="none" stroke="#eef4ee" stroke-width="1"/>
  <rect x="603.5" y="617.5" width="13" height="7" fill="#111"/>
  <rect x="605" y="619.5" width="3.5" height="3.5" fill="#999"/><rect x="611" y="619.5" width="3.5" height="3.5" fill="#999"/>
  <!-- slot -->
  <rect x="634.6" y="616.8" width="50" height="31" fill="#e6e6e6"/>
  <rect x="638" y="624" width="43" height="23.5" fill="#a9a9a9"/>
  <rect x="638" y="624" width="43" height="3" fill="#c8c8c8"/>
  <!-- right connector -->
  <rect x="695" y="631.5" width="38" height="6.5" fill="none" stroke="#e8f0e8" stroke-width="0.8"/>
  <g fill="#bdbdbd"><rect x="699" y="631" width="3" height="7"/><rect x="706" y="631" width="3" height="7"/><rect x="713" y="631" width="3" height="7"/><rect x="720" y="631" width="3" height="7"/></g>
  <rect x="692" y="610.8" width="43" height="21" fill="#e9e3d8" stroke="#c4bcae" stroke-width="0.6"/>
  <rect x="697" y="617" width="33" height="12" fill="#f4f0e8"/>
  <g fill="#b3ab9c"><rect x="702" y="618" width="2" height="2"/><rect x="709" y="618" width="2" height="2"/><rect x="716" y="618" width="2" height="2"/><rect x="723" y="618" width="2" height="2"/></g>
  <g font-size="3.5" fill="#e8f2e8"><text x="736" y="620">R25</text><text x="736" y="626">R26</text><text x="736" y="632">R27</text></g>
  <!-- SOIC8 -->
  <g fill="#d0d0d0"><rect x="688" y="592.5" width="7" height="2"/><rect x="688" y="596.5" width="7" height="2"/><rect x="688" y="600.5" width="7" height="2"/><rect x="688" y="604.5" width="7" height="2"/>
  <rect x="707" y="592.5" width="7" height="2"/><rect x="707" y="596.5" width="7" height="2"/><rect x="707" y="600.5" width="7" height="2"/><rect x="707" y="604.5" width="7" height="2"/></g>
  <rect x="694.5" y="591" width="13" height="16.5" fill="#151515"/>
  <rect x="697" y="583.5" width="11" height="5.5" rx="2.7" fill="#c9a77a" stroke="#f0f0f0" stroke-width="0.8"/>
  <text x="709" y="588" font-size="4.5" fill="#e8f2e8">C23</text>
  <!-- resistor grid -->
  <g transform="translate(724.8,571.4)">
      <rect x="-3.2" y="0" width="6.4" height="11.5" rx="2.5" fill="#cfcfcf" stroke="#eef4ee" stroke-width="0.8"/>
      <rect x="-2.2" y="3" width="4.4" height="5.5" fill="#3a3a3a"/></g><g transform="translate(732.6,571.4)">
      <rect x="-3.2" y="0" width="6.4" height="11.5" rx="2.5" fill="#cfcfcf" stroke="#eef4ee" stroke-width="0.8"/>
      <rect x="-2.2" y="3" width="4.4" height="5.5" fill="#3a3a3a"/></g><g transform="translate(740.5,571.4)">
      <rect x="-3.2" y="0" width="6.4" height="11.5" rx="2.5" fill="#cfcfcf" stroke="#eef4ee" stroke-width="0.8"/>
      <rect x="-2.2" y="3" width="4.4" height="5.5" fill="#3a3a3a"/></g><g transform="translate(748.4,571.4)">
      <rect x="-3.2" y="0" width="6.4" height="11.5" rx="2.5" fill="#cfcfcf" stroke="#eef4ee" stroke-width="0.8"/>
      <rect x="-2.2" y="3" width="4.4" height="5.5" fill="#3a3a3a"/></g><g transform="translate(757.1,571.4)">
      <rect x="-3.2" y="0" width="6.4" height="11.5" rx="2.5" fill="#cfcfcf" stroke="#eef4ee" stroke-width="0.8"/>
      <rect x="-2.2" y="3" width="4.4" height="5.5" fill="#3a3a3a"/></g>
  <g transform="translate(724.8,593.2)">
      <rect x="-3.2" y="0" width="6.4" height="11.5" rx="2.5" fill="#cfcfcf" stroke="#eef4ee" stroke-width="0.8"/>
      <rect x="-2.2" y="3" width="4.4" height="5.5" fill="#3a3a3a"/></g><g transform="translate(732.6,593.2)">
      <rect x="-3.2" y="0" width="6.4" height="11.5" rx="2.5" fill="#cfcfcf" stroke="#eef4ee" stroke-width="0.8"/>
      <rect x="-2.2" y="3" width="4.4" height="5.5" fill="#3a3a3a"/></g><g transform="translate(740.5,593.2)">
      <rect x="-3.2" y="0" width="6.4" height="11.5" rx="2.5" fill="#cfcfcf" stroke="#eef4ee" stroke-width="0.8"/>
      <rect x="-2.2" y="3" width="4.4" height="5.5" fill="#3a3a3a"/></g><g transform="translate(748.4,593.2)">
      <rect x="-3.2" y="0" width="6.4" height="11.5" rx="2.5" fill="#cfcfcf" stroke="#eef4ee" stroke-width="0.8"/>
      <rect x="-2.2" y="3" width="4.4" height="5.5" fill="#3a3a3a"/></g><g transform="translate(757.1,593.2)">
      <rect x="-3.2" y="0" width="6.4" height="11.5" rx="2.5" fill="#cfcfcf" stroke="#eef4ee" stroke-width="0.8"/>
      <rect x="-2.2" y="3" width="4.4" height="5.5" fill="#3a3a3a"/></g>
  <g transform="translate(721.5,544.5)">
      <rect x="-3.2" y="0" width="6.4" height="11.5" rx="2.5" fill="#cfcfcf" stroke="#eef4ee" stroke-width="0.8"/>
      <rect x="-2.2" y="3" width="4.4" height="5.5" fill="#3a3a3a"/></g><g transform="translate(729,544.5)">
      <rect x="-3.2" y="0" width="6.4" height="11.5" rx="2.5" fill="#cfcfcf" stroke="#eef4ee" stroke-width="0.8"/>
      <rect x="-2.2" y="3" width="4.4" height="5.5" fill="#3a3a3a"/></g><g transform="translate(736.5,544.5)">
      <rect x="-3.2" y="0" width="6.4" height="11.5" rx="2.5" fill="#cfcfcf" stroke="#eef4ee" stroke-width="0.8"/>
      <rect x="-2.2" y="3" width="4.4" height="5.5" fill="#3a3a3a"/></g>
  <rect x="742.5" y="544.5" width="7.5" height="14" fill="#111" stroke="#eef4ee" stroke-width="0.8"/>
  <!-- transistor row -->
  <g transform="translate(725,519.5)">
      <rect x="-3.2" y="0" width="6.4" height="11.5" rx="2.5" fill="#cfcfcf" stroke="#eef4ee" stroke-width="0.8"/>
      <rect x="-2.2" y="3" width="4.4" height="5.5" fill="#3a3a3a"/></g>
  <rect x="730.5" y="523.5" width="6" height="6" fill="#111"/><rect x="738.5" y="523.5" width="6" height="6" fill="#111"/><rect x="746.5" y="523.5" width="6" height="6" fill="#111"/><rect x="730" y="526" width="22" height="2" fill="#111"/>
  <g fill="#cfcfcf"><rect x="732" y="530" width="2" height="3"/><rect x="737" y="530" width="2" height="3"/><rect x="742" y="530" width="2" height="3"/><rect x="747" y="530" width="2" height="3"/><rect x="734" y="521" width="2" height="3"/><rect x="744" y="521" width="2" height="3"/></g>
  <g transform="translate(757,519.5)">
      <rect x="-3.2" y="0" width="6.4" height="11.5" rx="2.5" fill="#cfcfcf" stroke="#eef4ee" stroke-width="0.8"/>
      <rect x="-2.2" y="3" width="4.4" height="5.5" fill="#3a3a3a"/></g>
  <!-- J3 + wire -->
  <rect x="752.6" y="490.3" width="11.4" height="21" fill="#187a30" stroke="#eef4ee" stroke-width="0.8"/>
  <rect x="755" y="494.5" width="6.5" height="4.5" fill="#1a1a1a" stroke="#dfe6df" stroke-width="0.6"/><rect x="755" y="502.5" width="6.5" height="4.5" fill="#dfe6df"/>
  <text x="753" y="488.5" font-size="4.5" fill="#e8f2e8">J3</text>
  <path d="M766,497 C752,490 740,500 750,508 C758,514 770,510 775,520 M760,500 C772,502 776,512 766,520 C756,526 748,516 748,506" fill="none" stroke="#d8603a" stroke-width="0.8"/>
  <!-- C16 Q4 R36 area -->
  <g stroke="#eef4ee" stroke-width="0.7">
    <rect x="682" y="492.5" width="11" height="5" rx="2.5" fill="#cfcfcf"/>
    <rect x="682" y="499.5" width="11" height="5" rx="1" fill="#1c1c1c"/>
    <rect x="682" y="506.5" width="11" height="5" rx="1" fill="#1c1c1c"/>
    <rect x="708" y="504" width="12" height="6" fill="#1c1c1c"/>
  </g>
  <rect x="709" y="492" width="7" height="10" fill="#151515"/>

</g>

<!-- ===== ORANGE CALLOUTS ===== -->
<g fill="#f59f17" stroke="#f59f17">
  <line x1="696.2" y1="143" x2="696.2" y2="211" stroke-width="2.1"/>
  <circle cx="696.4" cy="210.8" r="4.5" stroke="none"/>
  <line x1="512" y1="213.8" x2="599" y2="213.8" stroke-width="2.1"/>
  <circle cx="599" cy="213.8" r="4.5" stroke="none"/>
  <line x1="512" y1="280" x2="617" y2="280" stroke-width="2.1"/>
  <circle cx="616.6" cy="279.6" r="4.5" stroke="none"/>
  <polyline points="742.4,269 742.4,353.6 511.6,353.6" fill="none" stroke-width="2.1"/>
  <circle cx="742.6" cy="269" r="4.5" stroke="none"/>
</g>
<g fill="#f5961a" font-weight="bold" font-size="15.9">
  <text x="599" y="135">High quality relay2</text>
  <text x="367" y="218.8">High quality relay1</text>
  <text x="367" y="286.3">Powr cable socket</text>
  <text x="442.5" y="359">Speaker</text>
</g>
</svg>
</body></html>
